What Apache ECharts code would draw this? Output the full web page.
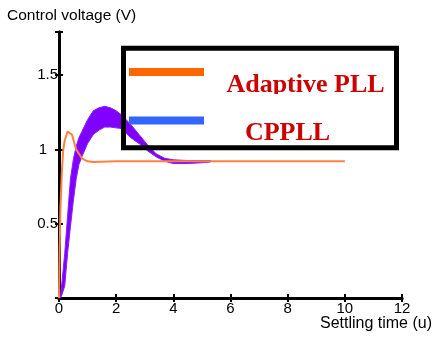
<!DOCTYPE html>
<html><head><meta charset="utf-8">
<script src="https://cdn.jsdelivr.net/npm/echarts@6/dist/echarts.min.js"></script>
<style>html,body{margin:0;padding:0;background:#fff}#c{width:434px;height:338px}</style>
</head><body><div id="c"></div>
<script>
// Adaptive PLL control voltage (orange trace)
var adaptiveX = [0, 0.02, 0.05, 0.1, 0.15, 0.2, 0.3, 0.35, 0.45, 0.6, 0.8, 1.0, 1.2, 2, 4, 6, 8, 10];
var adaptiveY = [0, 0.3, 0.6, 0.85, 1.0, 1.06, 1.12, 1.13, 1.1, 1.0, 0.94, 0.92, 0.915, 0.92, 0.92, 0.92, 0.92, 0.92];
// CPPLL control voltage (purple ripple band: upper / lower envelope)
var cpX =     [0.05, 0.1, 0.2, 0.3, 0.4, 0.5, 0.6, 0.7, 0.8, 1.0, 1.2, 1.4, 1.6, 1.8, 2.0, 2.2, 2.5, 2.8, 3.1, 3.4, 3.7, 4.0, 4.5, 5.0, 5.3];
var cpUpper = [0, 0.1, 0.3, 0.55, 0.8, 0.93, 1.02, 1.08, 1.12, 1.2, 1.26, 1.28, 1.29, 1.28, 1.26, 1.23, 1.17, 1.1, 1.03, 0.97, 0.94, 0.93, 0.925, 0.925, 0.925];
var cpLower = [0, 0.02, 0.08, 0.3, 0.48, 0.65, 0.8, 0.9, 0.95, 1.04, 1.1, 1.13, 1.15, 1.15, 1.145, 1.14, 1.08, 1.04, 0.99, 0.95, 0.92, 0.905, 0.905, 0.91, 0.915];
var xTicks = [0, 2, 4, 6, 8, 10, 12];
var yTickLabels = ['0.5', '1', '1.5'];
var legendNames = ['Adaptive PLL', 'CPPLL'];
var xTitle = 'Settling time (u)';
var yTitle = 'Control voltage (V)';

var chart = echarts.init(document.getElementById('c'));
function pairs(xs, ys) { return xs.map(function (x, i) { return [x, ys[i]]; }); }

var lineBlack = { show: true, lineStyle: { color: '#000', width: 3 } };
var tickIn = { show: true, inside: true, length: 4, lineStyle: { color: '#000', width: 2 } };
var font = 'Liberation Sans, Arial, sans-serif';
var serif = 'bold 26px Liberation Serif, Times New Roman, serif';

chart.setOption({
  animation: false,
  backgroundColor: '#fff',
  grid: { left: 59, right: 32, top: 32, bottom: 40 },
  xAxis: [
    { type: 'value', min: xTicks[0], max: xTicks[xTicks.length - 1], interval: 2, position: 'bottom',
      axisLine: lineBlack, axisTick: tickIn, splitLine: { show: false },
      axisLabel: { color: '#000', fontSize: 15, fontFamily: font, margin: 3 } },
    { type: 'value', min: xTicks[0], max: xTicks[xTicks.length - 1], interval: 2, position: 'top',
      axisLine: lineBlack, axisTick: tickIn, splitLine: { show: false }, axisLabel: { show: false } }
  ],
  yAxis: [
    { type: 'value', min: 0, max: 1.79, interval: 0.5, position: 'left',
      axisLine: lineBlack, axisTick: tickIn, splitLine: { show: false },
      axisLabel: { color: '#000', fontSize: 15, fontFamily: font, margin: 1,
        formatter: function (v) {
          var s = String(v);
          if (yTickLabels.indexOf(s) < 0) return '';
          return s.indexOf('.') < 0 ? '{p|' + s + '}' : s;
        },
        rich: { p: { color: '#000', fontSize: 15, fontFamily: font, padding: [0, 11, 0, 0] } } } },
    { type: 'value', min: 0, max: 1.79, interval: 0.5, position: 'right',
      axisLine: lineBlack, axisTick: tickIn, splitLine: { show: false }, axisLabel: { show: false } }
  ],
  series: [
    { type: 'custom', name: legendNames[1], xAxisIndex: 0, yAxisIndex: 0, z: 3,
      data: [[cpX[0], cpUpper[0]]],
      clip: true,
      renderItem: function (params, api) {
        var pts = [];
        for (var i = 0; i < cpX.length; i++) pts.push(api.coord([cpX[i], cpUpper[i]]));
        for (var j = cpX.length - 1; j >= 0; j--) pts.push(api.coord([cpX[j], cpLower[j]]));
        return { type: 'polygon', shape: { points: pts },
          style: { fill: '#8000ff', stroke: '#8a1cff', lineWidth: 1 } };
      } },
    { type: 'line', name: legendNames[0], data: pairs(adaptiveX, adaptiveY), symbol: 'none',
      lineStyle: { color: '#ff8040', width: 2 }, z: 4 }
  ],
  graphic: [
    { type: 'text', left: 7, top: 8, style: { text: yTitle, fill: '#000', font: '15.5px ' + font } },
    { type: 'text', right: 2, top: 316, style: { text: xTitle, fill: '#000', font: '16px ' + font } },
    { type: 'rect', shape: { x: 123.5, y: 48.2, width: 273, height: 99.5 }, z: 10,
      style: { fill: 'none', stroke: '#000', lineWidth: 5 } },
    { type: 'line', shape: { x1: 129, y1: 72, x2: 204, y2: 72 }, z: 10,
      style: { stroke: '#ff6600', lineWidth: 8 } },
    { type: 'line', shape: { x1: 129, y1: 120.5, x2: 204, y2: 120.5 }, z: 10,
      style: { stroke: '#3366ff', lineWidth: 8 } },
    { type: 'text', x: 305.5, y: 85, z: 10,
      style: { text: legendNames[0], fill: '#cc0000', font: serif,
        textAlign: 'center', textVerticalAlign: 'middle' } },
    { type: 'rect', shape: { x: 222, y: 94, width: 168, height: 8 }, z: 11,
      style: { fill: '#fff' } },
    { type: 'text', x: 287.5, y: 133, z: 10,
      style: { text: legendNames[1], fill: '#cc0000', font: serif,
        textAlign: 'center', textVerticalAlign: 'middle' } }
  ]
});
</script>
</body></html>
